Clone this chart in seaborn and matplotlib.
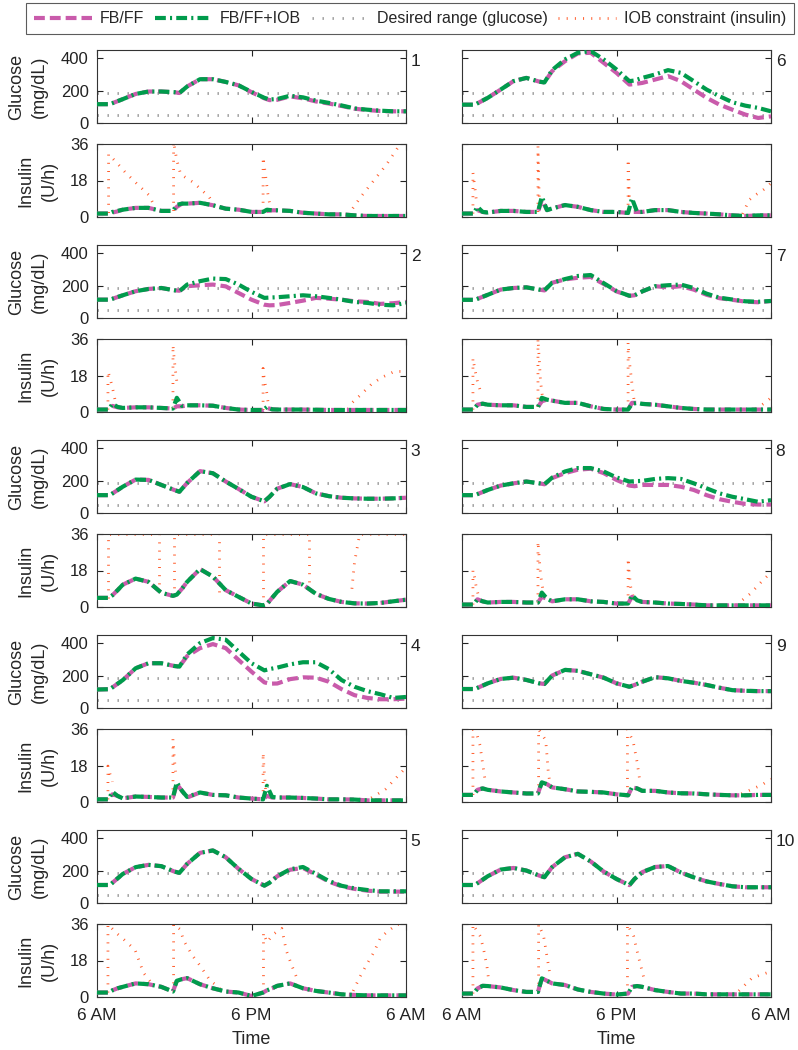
import numpy as np
import seaborn as sns
import matplotlib
matplotlib.use("Agg")
import matplotlib.pyplot as plt
from matplotlib.lines import Line2D

# time grids (hours after 6 AM)
hours_glu = [0, 1, 2, 3, 4, 5, 6, 6.4, 7, 8, 9, 10, 11, 12, 13, 13.4, 14, 15, 16, 17, 18, 19, 20, 21, 22, 23, 24]
hours_ins = [0, 0.9, 1.2, 1.6, 2, 3, 4, 5, 5.9, 6.2, 6.6, 7, 8, 9, 10, 11, 12, 12.9, 13.2, 13.6, 14, 15, 16, 17, 18, 19, 20, 21, 22, 23, 24]

# glucose (mg/dL), patients 1..10
glucose_fbff = [
    [116, 116, 147, 179, 194, 194, 190, 185, 225, 270, 270, 253, 232, 190, 152, 141, 143, 164, 152, 133, 120, 105, 88, 80, 74, 72, 72],
    [113, 113, 140, 165, 179, 185, 171, 168, 196, 202, 206, 195, 154, 113, 82, 78, 80, 93, 107, 124, 119, 113, 103, 99, 87, 91, 99],
    [110, 110, 162, 206, 204, 173, 142, 131, 185, 258, 245, 194, 148, 100, 72, 100, 150, 178, 160, 121, 104, 94, 90, 88, 88, 90, 94],
    [114, 116, 172, 245, 276, 276, 259, 255, 320, 369, 394, 369, 296, 224, 158, 150, 151, 178, 189, 187, 162, 116, 79, 62, 54, 54, 58],
    [111, 111, 179, 221, 235, 227, 194, 186, 241, 309, 324, 282, 210, 148, 107, 125, 165, 205, 216, 175, 132, 103, 87, 76, 70, 70, 70],
    [113, 113, 155, 206, 258, 278, 255, 250, 320, 381, 429, 433, 371, 309, 237, 240, 247, 268, 289, 258, 206, 155, 113, 82, 52, 31, 41],
    [112, 112, 143, 175, 185, 189, 175, 170, 217, 238, 248, 253, 210, 164, 137, 140, 164, 196, 189, 196, 175, 143, 122, 112, 101, 97, 105],
    [110, 110, 142, 169, 183, 194, 183, 177, 215, 246, 267, 273, 246, 204, 169, 165, 173, 173, 173, 162, 142, 110, 85, 69, 56, 52, 52],
    [117, 117, 152, 179, 187, 173, 152, 148, 200, 235, 229, 208, 187, 152, 131, 142, 162, 190, 183, 167, 156, 142, 125, 110, 106, 104, 104],
    [111, 111, 165, 206, 216, 200, 169, 159, 221, 282, 303, 256, 194, 148, 110, 148, 190, 222, 228, 188, 158, 133, 117, 103, 97, 97, 97],
]
glucose_iob = [
    [116, 116, 147, 179, 194, 194, 190, 185, 225, 270, 270, 253, 232, 192, 155, 145, 148, 168, 158, 138, 124, 108, 90, 82, 76, 72, 72],
    [113, 113, 140, 165, 179, 185, 171, 165, 206, 227, 243, 240, 206, 161, 124, 126, 128, 134, 140, 134, 124, 113, 99, 93, 82, 78, 93],
    [110, 110, 162, 206, 204, 173, 142, 131, 185, 258, 245, 194, 148, 100, 72, 100, 150, 178, 160, 121, 104, 94, 90, 88, 88, 90, 94],
    [114, 116, 172, 245, 276, 276, 259, 255, 330, 400, 431, 421, 348, 276, 232, 240, 249, 269, 282, 282, 240, 172, 131, 104, 85, 62, 68],
    [111, 111, 179, 221, 235, 227, 194, 186, 241, 309, 324, 282, 210, 148, 107, 125, 165, 208, 222, 180, 136, 106, 90, 80, 72, 72, 72],
    [113, 113, 155, 206, 258, 278, 255, 250, 326, 392, 433, 443, 392, 330, 258, 262, 278, 299, 326, 309, 258, 206, 165, 128, 107, 93, 72],
    [112, 112, 143, 175, 185, 189, 175, 170, 217, 240, 259, 265, 215, 166, 137, 140, 164, 196, 202, 206, 185, 150, 125, 114, 103, 100, 105],
    [110, 110, 142, 169, 183, 194, 183, 177, 218, 256, 277, 277, 256, 219, 194, 196, 198, 210, 215, 210, 183, 152, 121, 100, 85, 69, 79],
    [117, 117, 152, 179, 187, 173, 152, 148, 200, 235, 229, 208, 187, 152, 131, 142, 162, 190, 183, 167, 156, 142, 125, 110, 106, 104, 104],
    [111, 111, 165, 206, 216, 200, 169, 159, 221, 282, 303, 256, 194, 148, 110, 148, 190, 222, 228, 188, 158, 133, 117, 103, 97, 97, 97],
]

# insulin (U/h), patients 1..10
insulin_fbff = [
    [1.7, 1.7, 2.2, 2.8, 3.6, 4.5, 4.5, 3.0, 3.0, 5.0, 6.6, 6.6, 7.0, 5.8, 4.1, 3.6, 2.5, 2.5, 3.0, 3.3, 3.3, 3.0, 2.1, 1.7, 1.3, 1.3, 0.8, 0.5, 0.5, 0.5, 0.5],
    [1.2, 1.2, 3.0, 2.3, 2.0, 2.3, 2.3, 2.0, 1.7, 2.8, 2.8, 3.3, 3.3, 3.1, 2.0, 1.2, 1.0, 1.0, 2.0, 1.3, 1.2, 1.2, 1.2, 1.1, 1.0, 1.0, 1.0, 1.0, 1.0, 1.0, 1.0],
    [4.5, 4.5, 5.8, 8.3, 11, 14, 12.4, 7.0, 5.5, 6.1, 9.0, 12.4, 18.7, 15, 8.3, 5.0, 1.7, 0.8, 1.5, 4.5, 7.5, 12.8, 11, 6.5, 4.0, 2.5, 1.8, 1.7, 2.0, 2.8, 3.6],
    [1.3, 1.3, 3.8, 3.0, 1.8, 2.7, 2.5, 2.2, 2.2, 8.8, 5.5, 2.2, 4.7, 3.5, 3.3, 2.2, 1.7, 1.3, 3.0, 2.2, 2.2, 2.2, 2.0, 1.7, 1.3, 1.3, 1.2, 0.8, 0.8, 0.8, 0.8],
    [2.2, 2.2, 3.3, 4.3, 5.0, 6.7, 6.3, 5.0, 2.7, 8.0, 8.8, 9.3, 6.3, 4.3, 2.7, 2.2, 0.5, 2.2, 3.3, 4.3, 5.5, 6.7, 4.3, 3.0, 2.2, 1.3, 1.0, 0.8, 0.8, 0.8, 0.8],
    [1.7, 1.7, 3.4, 2.5, 2.2, 3.0, 3.0, 2.5, 2.5, 8.4, 3.4, 4.2, 5.9, 5.0, 3.4, 2.5, 2.5, 2.0, 2.5, 2.5, 2.5, 3.4, 3.4, 2.5, 2.0, 1.7, 1.3, 0.8, 0.5, 0.8, 0.8],
    [1.2, 1.2, 3.6, 4.1, 3.6, 3.3, 3.3, 2.5, 2.5, 5.3, 6.1, 5.6, 4.5, 4.5, 2.8, 1.5, 1.2, 1.2, 4.5, 4.5, 4.0, 3.6, 2.8, 2.0, 1.5, 1.2, 1.2, 1.2, 1.2, 1.2, 1.2],
    [1.2, 1.2, 3.8, 2.8, 2.2, 2.5, 2.5, 2.2, 2.2, 5.0, 4.1, 2.8, 3.8, 3.8, 2.8, 2.5, 1.7, 1.7, 5.0, 3.3, 2.5, 2.2, 1.7, 1.5, 1.2, 0.8, 0.8, 0.8, 0.8, 0.8, 0.8],
    [3.5, 3.5, 6.0, 6.7, 6.0, 5.2, 4.7, 4.2, 4.2, 9.7, 8.8, 7.2, 6.3, 5.2, 5.0, 4.7, 3.8, 3.3, 7.2, 6.7, 5.5, 5.5, 4.7, 4.3, 4.2, 3.8, 3.5, 3.3, 3.3, 3.5, 3.5],
    [1.7, 1.7, 4.2, 5.5, 5.4, 4.7, 3.4, 2.5, 2.5, 9.2, 8.0, 6.7, 5.9, 3.7, 2.5, 1.7, 1.2, 1.7, 5.0, 5.4, 5.0, 3.4, 2.5, 1.7, 1.7, 1.3, 1.3, 1.3, 1.3, 1.3, 1.3],
]
insulin_iob = [
    [1.7, 1.7, 2.5, 3.0, 3.6, 4.5, 4.5, 3.0, 3.0, 6.0, 6.6, 6.6, 7.0, 5.8, 4.1, 3.6, 2.5, 2.5, 3.6, 3.3, 3.3, 3.0, 2.1, 1.7, 1.3, 1.3, 0.8, 0.5, 0.5, 0.5, 0.5],
    [1.2, 1.2, 4.0, 2.5, 2.0, 2.3, 2.3, 2.0, 1.7, 7.0, 3.0, 3.3, 3.3, 3.1, 2.0, 1.2, 1.0, 1.0, 2.5, 1.3, 1.2, 1.2, 1.2, 1.1, 1.0, 1.0, 1.0, 1.0, 1.0, 1.0, 1.0],
    [4.5, 4.5, 5.8, 8.3, 11, 14, 12.4, 7.0, 5.5, 6.1, 9.0, 12.4, 18.7, 15, 8.3, 5.0, 1.7, 0.8, 1.5, 4.5, 7.5, 12.8, 11, 6.5, 4.0, 2.5, 1.8, 1.7, 2.0, 2.8, 3.6],
    [1.3, 1.3, 5.0, 3.0, 1.8, 2.7, 2.5, 2.2, 2.2, 9.7, 5.5, 2.5, 4.7, 3.5, 3.3, 2.2, 1.7, 1.3, 8.0, 2.5, 2.2, 2.2, 2.0, 1.7, 1.3, 1.3, 1.2, 0.8, 0.8, 0.8, 0.8],
    [2.2, 2.2, 3.3, 4.3, 5.0, 6.7, 6.3, 5.0, 2.7, 8.0, 8.8, 9.3, 6.3, 4.3, 2.7, 2.2, 0.5, 2.2, 3.3, 4.3, 5.5, 6.7, 4.3, 3.0, 2.2, 1.3, 1.0, 0.8, 0.8, 0.8, 0.8],
    [1.7, 1.7, 5.0, 2.5, 2.2, 3.0, 3.0, 2.5, 2.5, 10.0, 3.4, 4.2, 5.9, 5.0, 3.4, 2.5, 2.5, 2.0, 9.2, 2.5, 2.5, 3.4, 3.4, 2.5, 2.0, 1.7, 1.3, 0.8, 0.5, 0.8, 0.8],
    [1.2, 1.2, 3.6, 4.1, 3.6, 3.3, 3.3, 2.5, 2.5, 7.0, 6.1, 5.6, 4.5, 4.5, 2.8, 1.5, 1.2, 1.2, 4.0, 4.5, 4.0, 3.6, 2.8, 2.0, 1.5, 1.2, 1.2, 1.2, 1.2, 1.2, 1.2],
    [1.2, 1.2, 3.8, 2.8, 2.2, 2.5, 2.5, 2.2, 2.2, 7.1, 4.1, 2.8, 3.8, 3.8, 2.8, 2.5, 1.7, 1.7, 5.8, 3.3, 2.5, 2.2, 1.7, 1.5, 1.2, 0.8, 0.8, 0.8, 0.8, 0.8, 0.8],
    [3.5, 3.5, 6.0, 6.7, 6.0, 5.2, 4.7, 4.2, 4.2, 9.7, 8.8, 7.2, 6.3, 5.2, 5.0, 4.7, 3.8, 3.3, 7.2, 6.7, 5.5, 5.5, 4.7, 4.3, 4.2, 3.8, 3.5, 3.3, 3.3, 3.5, 3.5],
    [1.7, 1.7, 4.2, 5.5, 5.4, 4.7, 3.4, 2.5, 2.5, 9.2, 8.0, 6.7, 5.9, 3.7, 2.5, 1.7, 1.2, 1.7, 5.0, 5.4, 5.0, 3.4, 2.5, 1.7, 1.7, 1.3, 1.3, 1.3, 1.3, 1.3, 1.3],
]

# IOB constraint (U/h), nan separates pieces
nan = np.nan
iob_hours = [
    [0.9, 0.9, 1.5, 2.2, 3.0, 4.0, 4.5, nan, 5.95, 5.95, 6.2, 6.5, 7.0, 7.5, 8.0, 8.7, 9.0, nan, 12.9, 12.9, 13.1, 13.3, 13.5, nan, 19.5, 20.5, 21.5, 22.5, 23.5, 24],
    [0.85, 0.85, 1.0, 1.2, 1.4, nan, 5.9, 5.9, 6.0, 6.1, 6.2, nan, 12.9, 12.9, 13.0, 13.2, 13.3, nan, 19.5, 19.8, 20.5, 21.3, 22.1, 23.1, 24],
    [0.85, 0.85, 4.8, 4.8, nan, 6.0, 6.0, 9.5, 9.5, nan, 12.9, 12.9, 16.5, 16.5, nan, 19.8, 20.0, 20.4, 24],
    [0.85, 0.85, 1.0, 1.2, nan, 5.9, 5.9, 6.0, 6.1, nan, 12.9, 12.9, 13.0, 13.1, nan, 21.3, 22.4, 23.1, 24],
    [0.85, 0.85, 1.03, 1.55, 2.33, 2.97, 3.36, 3.6, 4.3, nan, 5.95, 5.95, 6.47, 6.72, 7.1, 7.5, 8.0, 8.8, 9.57, nan,
     12.93, 12.93, 13.2, 13.7, 14.35, 14.7, 15.1, 15.5, nan, 19.9, 20.4, 20.9, 21.5, 22.0, 22.5, 23.3, 24],
    [0.85, 0.85, 0.95, 1.05, 1.15, nan, 5.9, 5.9, 5.95, 6.0, nan, 12.9, 12.9, 12.95, 13.0, nan, 21.8, 22.3, 22.8, 23.4, 24],
    [0.85, 0.85, 1.0, 1.2, 1.5, nan, 5.9, 5.9, 6.0, 6.1, 6.3, nan, 12.9, 12.9, 13.0, 13.2, 13.4, nan, 22.8, 23.4, 24],
    [0.85, 0.85, 1.0, 1.1, 1.3, nan, 5.9, 5.9, 6.0, 6.1, 6.3, nan, 12.9, 12.9, 13.0, 13.1, 13.3, nan, 21.3, 22.4, 22.9, 23.4, 24],
    [0.85, 0.85, 1.17, 1.4, 1.6, 1.8, nan, 5.95, 5.95, 6.5, 6.6, 6.7, 6.86, nan, 12.85, 12.85, 13.3, 13.6, 13.85, nan, 21.7, 23.3, 24],
    [0.85, 0.85, 1.42, 1.68, 1.94, 2.07, nan, 5.95, 5.95, 6.34, 6.6, 6.86, nan, 12.85, 12.85, 13.33, 13.7, 14.1, nan, 21.5, 22.5, 23.2, 24],
]
iob_values = [
    [2, 31, 27, 22, 17, 11, 5, nan, 3, 37, 28, 21, 19, 17, 14, 10, 7, nan, 3, 29.5, 20, 10, 4, nan, 1, 10, 18, 26, 35.5, 37],
    [1.2, 20, 17, 12, 6, nan, 1.7, 33, 26, 20, 15, nan, 1.0, 21.5, 16, 9, 4, nan, 1.5, 4.5, 8.6, 13.6, 17, 20, 20],
    [4.5, 35.8, 35.8, 7.5, nan, 5.5, 35.8, 35.8, 5, nan, 0.8, 35.8, 35.8, 6.6, nan, 9, 22, 35.8, 35.8],
    [1.3, 17.7, 14, 10, nan, 2.2, 31, 22, 15, nan, 1.3, 24.3, 14, 6, nan, 2, 6.3, 11, 17],
    [2.2, 35.8, 34.7, 31.3, 27, 23, 16.3, 12, 6.3, nan, 2.7, 35.8, 33.3, 28, 23.8, 19.7, 15.5, 8, 4.3, nan,
     2.2, 31.7, 27, 31, 33.8, 23, 16, 9.7, nan, 3, 9.7, 15.5, 22, 29, 32, 35.8, 35.8],
    [1.7, 21.8, 17, 12, 6, nan, 2.5, 34.8, 20, 10, nan, 2.0, 28.5, 20, 10, nan, 1.5, 8.4, 10.9, 13.4, 16.7],
    [1.2, 26.5, 21, 15, 9, nan, 2.5, 36, 26, 15, 5, nan, 1.2, 34.3, 25, 14, 4, nan, 1.5, 4, 7],
    [1.2, 18.2, 14, 10, 5, nan, 2.2, 32.3, 24, 16, 8, nan, 1.7, 24, 16, 10, 5, nan, 1.0, 6.6, 10, 13.4, 17],
    [3.5, 35.8, 33, 28, 19, 10.5, nan, 4.2, 35.8, 30.5, 23, 14.7, 8, nan, 3.3, 35.8, 29.7, 19.7, 8.8, nan, 4, 8.5, 11.3],
    [1.7, 35.8, 30, 23.5, 15, 8.4, nan, 2.5, 35.8, 30, 20, 10, nan, 1.7, 35.8, 30, 20, 10, nan, 3, 9.2, 10.9, 12.6],
]

desired_range = [52, 185]
xtick_hours = [0, 12, 24]
xtick_labels = ["6 AM", "6 PM", "6 AM"]

MAGENTA = "#C95BAB"
GREEN = "#009B4C"
ORANGE = "#FF5A28"
GRAY = "#9A9A9A"
ff_style = dict(color=MAGENTA, linewidth=3.0, linestyle=(0, (2.6, 1.2)))
iob_style = dict(color=GREEN, linewidth=3.0, linestyle=(0, (2.6, 1.0, 0.5, 1.0)))
con_style = dict(color=ORANGE, linewidth=2.0, linestyle=(0, (0.35, 2.6)))
rng_style = dict(color=GRAY, linewidth=2.0, linestyle=(0, (0.5, 3.1)))

sns.set_style("ticks")
plt.rcParams["font.family"] = ["Liberation Sans", "DejaVu Sans"]
plt.rcParams["axes.linewidth"] = 0.8
plt.rcParams["axes.edgecolor"] = "#333333"

fig = plt.figure(figsize=(7.98, 10.5), dpi=100)
W, H = 798.0, 1050.0


def style_axes(ax, ylim, yticks, show_ylab, ylabel, bottom):
    ax.set_xlim(0, 24)
    ax.set_ylim(*ylim)
    ax.set_xticks(xtick_hours)
    ax.set_yticks(yticks)
    ax.tick_params(direction="in", top=True, right=True, length=4, width=0.8,
                   labelsize=12, colors="#222222")
    ax.tick_params(axis="y", pad=6)
    if show_ylab:
        ax.set_ylabel(ylabel, fontsize=13, linespacing=1.45, labelpad=9)
    else:
        ax.set_ylabel("")
        ax.set_yticklabels([])
    if bottom:
        ax.set_xticklabels(xtick_labels)
        ax.tick_params(axis="x", pad=8, labelsize=12.5)
        ax.set_xlabel("Time", fontsize=13, labelpad=6)
    else:
        ax.set_xticklabels([])
        ax.set_xlabel("")


for p in range(10):
    col = p // 5
    row = p % 5
    x0 = [97, 462][col]
    gtop = 50 + 195 * row
    itop = 144 + 195 * row
    ax_g = fig.add_axes([x0 / W, 1 - (gtop + 73) / H, 309 / W, 73 / H])
    ax_i = fig.add_axes([x0 / W, 1 - (itop + 73) / H, 309 / W, 73 / H])

    # glucose
    for lvl in desired_range:
        ax_g.axhline(lvl, **rng_style, zorder=1)
    sns.lineplot(x=hours_glu, y=glucose_fbff[p], ax=ax_g, estimator=None, sort=False, zorder=3, **ff_style)
    sns.lineplot(x=hours_glu, y=glucose_iob[p], ax=ax_g, estimator=None, sort=False, zorder=4, **iob_style)
    style_axes(ax_g, (0, 450), [0, 200, 400], col == 0, "Glucose\n(mg/dL)", False)
    ax_g.text(1.015, 0.84, str(p + 1), transform=ax_g.transAxes, fontsize=12.5,
              ha="left", va="center", color="#222222")

    # insulin: IOB constraint pieces
    th = np.array(iob_hours[p], dtype=float)
    tv = np.array(iob_values[p], dtype=float)
    breaks = np.where(np.isnan(th))[0]
    starts = np.concatenate([[0], breaks + 1])
    ends = np.concatenate([breaks, [len(th)]])
    for s, e in zip(starts, ends):
        sns.lineplot(x=th[s:e], y=tv[s:e], ax=ax_i, estimator=None, sort=False, zorder=2, **con_style)
    sns.lineplot(x=hours_ins, y=insulin_fbff[p], ax=ax_i, estimator=None, sort=False, zorder=3, **ff_style)
    sns.lineplot(x=hours_ins, y=insulin_iob[p], ax=ax_i, estimator=None, sort=False, zorder=4, **iob_style)
    style_axes(ax_i, (0, 36), [0, 18, 36], col == 0, "Insulin\n(U/h)", row == 4)

handles = [Line2D([], [], **ff_style), Line2D([], [], **iob_style),
           Line2D([], [], **rng_style), Line2D([], [], **con_style)]
labels = ["FB/FF", "FB/FF+IOB", "Desired range (glucose)", "IOB constraint (insulin)"]
leg = fig.legend(handles, labels, loc="upper center", bbox_to_anchor=(0.514, 0.997), ncol=4,
                 fontsize=11.5, frameon=True, fancybox=False, edgecolor="#333333",
                 handlelength=3.6, columnspacing=0.65, handletextpad=0.5, borderpad=0.5,
                 borderaxespad=0.0)
leg.get_frame().set_linewidth(0.8)

fig.savefig("out.png", dpi=100)
